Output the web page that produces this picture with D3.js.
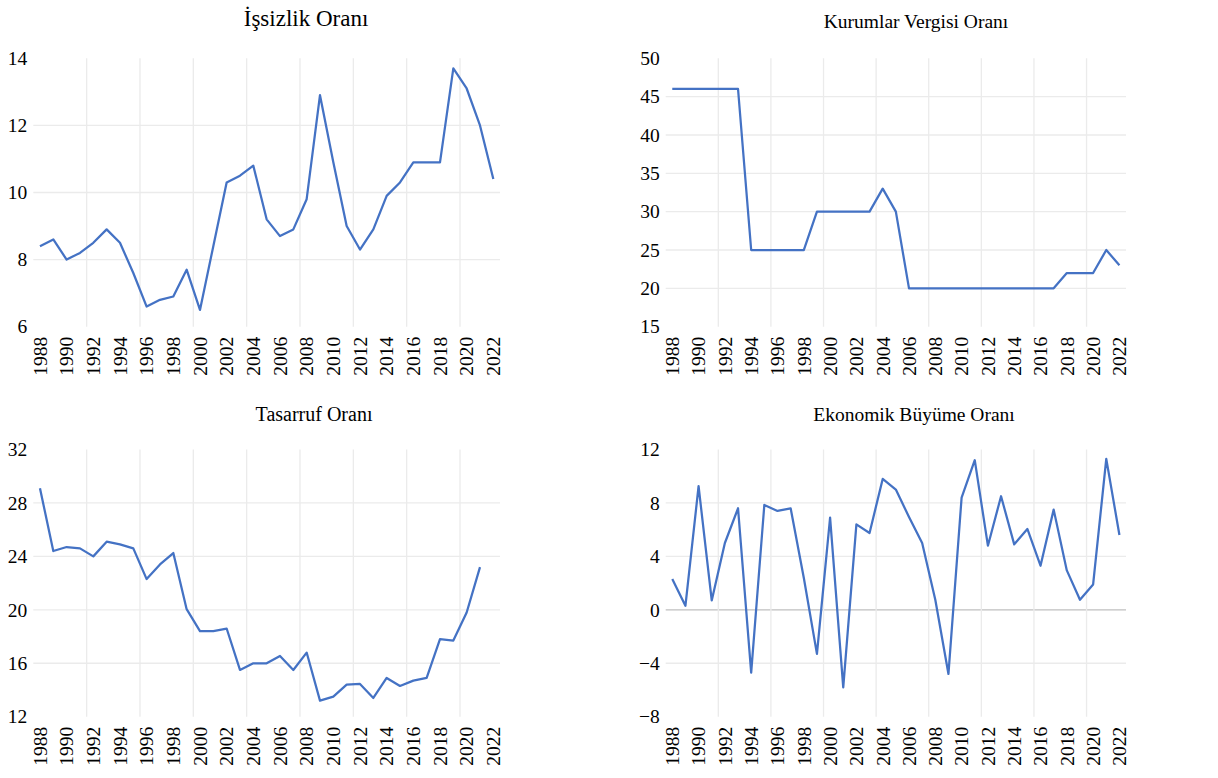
<!DOCTYPE html>
<html>
<head>
<meta charset="utf-8">
<script src="https://cdn.jsdelivr.net/npm/d3@7"></script>
<style>
  body { margin: 0; background: #fff; }
</style>
</head>
<body>
<div id="chart-area"></div>
<script>
const FONT = "Liberation Serif";
const years = d3.range(1988, 2023);

// İşsizlik Oranı
const unemployment = [8.4, 8.6, 8.0, 8.2, 8.5, 8.9, 8.5, 7.6, 6.6, 6.8, 6.9, 7.7, 6.5, 8.4,
  10.3, 10.5, 10.8, 9.2, 8.7, 8.9, 9.8, 12.9, 10.9, 9.0, 8.3, 8.9, 9.9, 10.3, 10.9, 10.9,
  10.9, 13.7, 13.1, 12.0, 10.4];

// Kurumlar Vergisi Oranı
const corpTax = [46, 46, 46, 46, 46, 46, 25, 25, 25, 25, 25, 30, 30, 30, 30, 30, 33, 30,
  20, 20, 20, 20, 20, 20, 20, 20, 20, 20, 20, 20, 22, 22, 22, 25, 23];

// Tasarruf Oranı (2022 yok)
const savings = [29.1, 24.4, 24.7, 24.6, 24.0, 25.1, 24.9, 24.6, 22.3, 23.4, 24.25, 20.05,
  18.4, 18.4, 18.6, 15.5, 16.0, 16.0, 16.55, 15.5, 16.8, 13.2, 13.5, 14.4, 14.45, 13.4,
  14.9, 14.3, 14.7, 14.9, 17.8, 17.7, 19.8, 23.2, null];

// Ekonomik Büyüme Oranı
const growth = [2.3, 0.3, 9.25, 0.7, 5.0, 7.6, -4.7, 7.85, 7.4, 7.6, 2.4, -3.3, 6.9, -5.8,
  6.4, 5.75, 9.8, 9.0, 6.95, 5.0, 0.75, -4.8, 8.4, 11.2, 4.8, 8.5, 4.9, 6.05, 3.3, 7.5,
  2.95, 0.75, 1.9, 11.3, 5.6];

const panels = [
  { title: "İşsizlik Oranı", values: unemployment, yTicks: [6, 8, 10, 12, 14],
    box: { left: 33.3, right: 500, top: 58.3, bottom: 326.7 },
    titleX: 306, titleY: 26, titleSize: 23 },
  { title: "Kurumlar Vergisi Oranı", values: corpTax, yTicks: [15, 20, 25, 30, 35, 40, 45, 50],
    box: { left: 665.7, right: 1126, top: 58.3, bottom: 326.7 },
    titleX: 916, titleY: 28, titleSize: 19.5 },
  { title: "Tasarruf Oranı", values: savings, yTicks: [12, 16, 20, 24, 28, 32],
    box: { left: 33.3, right: 500, top: 449.5, bottom: 716.7 },
    titleX: 314, titleY: 421, titleSize: 20 },
  { title: "Ekonomik Büyüme Oranı", values: growth, yTicks: [-8, -4, 0, 4, 8, 12],
    box: { left: 665.7, right: 1126, top: 449.5, bottom: 716.7 },
    titleX: 914, titleY: 421, titleSize: 19.5 }
];

const svg = d3.select("#chart-area").append("svg")
  .attr("width", 1218)
  .attr("height", 778)
  .attr("font-family", FONT);

panels.forEach(p => {
  const b = p.box;
  const g = svg.append("g");

  const x = d3.scaleBand()
    .domain(years)
    .range([b.left, b.right])
    .padding(0);

  const y = d3.scaleLinear()
    .domain(d3.extent(p.yTicks))
    .range([b.bottom, b.top]);

  // horizontal gridlines, none at the ends; zero line darker
  const inner = p.yTicks.slice(1, -1);
  g.selectAll(".hgrid")
    .data(inner)
    .enter().append("line")
    .attr("x1", b.left)
    .attr("x2", b.right)
    .attr("y1", d => y(d))
    .attr("y2", d => y(d))
    .attr("stroke", d => d === 0 ? "#bfbfbf" : "#ebebeb")
    .attr("stroke-width", 1.3);

  // vertical gridlines every 4 categories, on category boundaries
  const vYears = years.filter((d, i) => i > 0 && i % 4 === 0);
  g.selectAll(".vgrid")
    .data(vYears)
    .enter().append("line")
    .attr("x1", d => x(d))
    .attr("x2", d => x(d))
    .attr("y1", b.top)
    .attr("y2", b.bottom)
    .attr("stroke", "#ebebeb")
    .attr("stroke-width", 1.3);

  // y axis labels
  const yAxisGroup = g.append("g")
    .attr("transform", `translate(${b.left},0)`)
    .call(d3.axisLeft(y).tickValues(p.yTicks).tickSize(0).tickPadding(6))
    .attr("font-size", 19.5)
    .attr("font-family", FONT);
  yAxisGroup.select(".domain").remove();
  yAxisGroup.selectAll("text").attr("fill", "#000");

  // x axis labels, every 2nd year, rotated
  const xAxisGroup = g.append("g")
    .attr("transform", `translate(0,${b.bottom})`)
    .call(d3.axisBottom(x).tickValues(years.filter((d, i) => i % 2 === 0)).tickSize(0))
    .attr("font-size", 19.5)
    .attr("font-family", FONT);
  xAxisGroup.select(".domain").remove();
  xAxisGroup.selectAll("text")
    .attr("fill", "#000")
    .attr("text-anchor", "end")
    .attr("transform", "translate(0,10) rotate(-90)")
    .attr("x", 0)
    .attr("y", 0)
    .attr("dy", "0.35em");

  // line
  const line = d3.line()
    .defined(d => d[1] !== null)
    .x(d => x(d[0]) + x.bandwidth() / 2)
    .y(d => y(d[1]));

  g.append("path")
    .datum(years.map((yr, i) => [yr, p.values[i]]))
    .attr("fill", "none")
    .attr("stroke", "#4472C4")
    .attr("stroke-width", 2.25)
    .attr("stroke-linejoin", "round")
    .attr("d", line);

  // title
  svg.append("text")
    .attr("x", p.titleX)
    .attr("y", p.titleY)
    .attr("text-anchor", "middle")
    .attr("font-family", FONT)
    .attr("font-size", p.titleSize)
    .attr("fill", "#000")
    .text(p.title);
});
</script>
</body>
</html>
